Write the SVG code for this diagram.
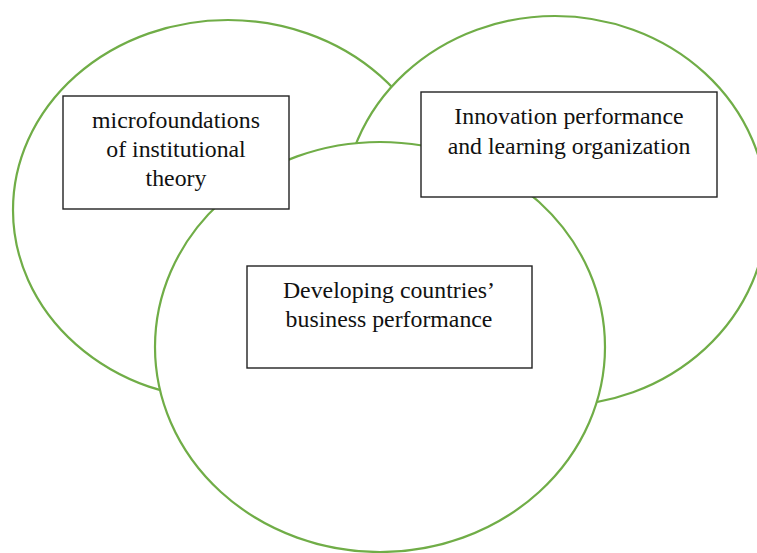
<svg xmlns="http://www.w3.org/2000/svg" width="757" height="553" viewBox="0 0 757 553">
<style>
.circ{fill:#fff;stroke:#70AD47;stroke-width:2.2}
.box{fill:#fff;stroke:#222;stroke-width:1.4}
.t{font-family:"Liberation Serif","Times New Roman",serif;font-size:23.8px;fill:#111;text-anchor:middle}
</style>
<rect width="757" height="553" fill="#fff"/>
<g id="circle-institutional"><ellipse class="circ" cx="228" cy="210" rx="215" ry="190"/></g>
<g id="circle-innovation"><ellipse class="circ" cx="555" cy="211" rx="212" ry="195"/></g>
<g id="circle-developing"><ellipse class="circ" cx="380" cy="347" rx="225" ry="205"/></g>
<g id="node-institutional">
<rect class="box" x="63" y="96" width="226" height="113"/>
<text class="t" x="176" y="128">microfoundations</text>
<text class="t" x="176" y="157">of institutional</text>
<text class="t" x="176" y="186">theory</text>
</g>
<g id="node-innovation">
<rect class="box" x="421" y="92" width="296" height="105"/>
<text class="t" x="569" y="124">Innovation performance</text>
<text class="t" x="569" y="154">and learning organization</text>
</g>
<g id="node-developing">
<rect class="box" x="247" y="266" width="285" height="102"/>
<text class="t" x="389" y="298">Developing countries’</text>
<text class="t" x="389" y="327">business performance</text>
</g>
<g id="connectors"/>
</svg>
